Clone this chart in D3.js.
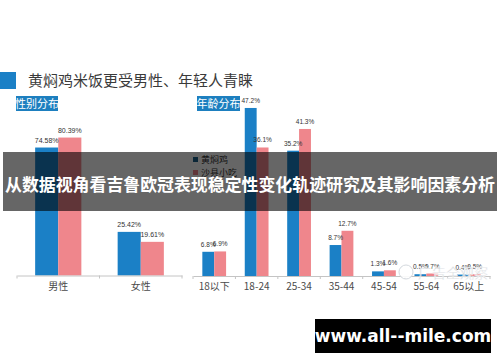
<!DOCTYPE html>
<html>
<head>
<meta charset="utf-8">
<script src="https://cdn.jsdelivr.net/npm/d3@7"></script>
<style>
  body { margin: 0; background: #fff; }
  svg { display: block; font-family: "Noto Sans CJK SC", "Noto Sans", sans-serif; }
</style>
</head>
<body>
<div id="chart"></div>
<script>
// chart data
var genderCats = ["男性", "女性"];
var genderA = [74.58, 25.42];   // 黄焖鸡
var genderB = [80.39, 19.61];   // 沙县小吃
var ageCats = ["18以下", "18-24", "25-34", "35-44", "45-54", "55-64", "65以上"];
var ageA = [6.8, 47.2, 35.2, 8.7, 1.3, 0.5, 0.4];
var ageB = [6.9, 36.1, 41.3, 12.7, 1.6, 0.7, 0.5];
var seriesNames = ["黄焖鸡", "沙县小吃"];

var blue = "#1b80c6";
var pink = "#ef868c";

var svg = d3.select("#chart").append("svg")
  .attr("width", 500)
  .attr("height", 362);

svg.append("rect").attr("width", 500).attr("height", 362).attr("fill", "#fff");

// title
svg.append("rect").attr("x", 0).attr("y", 72).attr("width", 16).attr("height", 17).attr("fill", blue);
svg.append("text")
  .attr("x", 28).attr("y", 86)
  .attr("font-size", 15)
  .attr("fill", "#3a3a3a")
  .text("黄焖鸡米饭更受男性、年轻人青睐");

// draws one grouped bar panel
function panel(cats, a, b, xr, yBase, yMax, yTop, decimals, labelSize) {
  var x0 = d3.scaleBand().domain(cats).range(xr);
  var bw = x0.bandwidth();
  var x1 = d3.scaleBand().domain([0, 1]).range([bw * 0.22, bw * 0.78]);
  var y = d3.scaleLinear().domain([0, yMax]).range([yBase, yTop]);

  var g = svg.append("g");
  var rows = cats.map(function (c, i) { return { cat: c, vals: [a[i], b[i]] }; });

  var grp = g.selectAll("g.cat").data(rows).enter().append("g")
    .attr("class", "cat")
    .attr("transform", d => `translate(${x0(d.cat)},0)`);

  grp.selectAll("rect").data(d => d.vals).enter().append("rect")
    .attr("x", (d, i) => x1(i))
    .attr("y", d => y(d))
    .attr("width", x1.bandwidth())
    .attr("height", d => yBase - y(d))
    .attr("fill", (d, i) => i == 0 ? blue : pink);

  grp.selectAll("text").data(d => d.vals).enter().append("text")
    .attr("x", (d, i) => x1(i) + x1.bandwidth() / 2)
    .attr("y", d => y(d) - 5)
    .attr("text-anchor", "middle")
    .attr("font-family", "Liberation Sans")
    .attr("font-size", labelSize)
    .attr("fill", "#333")
    .text(d => d.toFixed(decimals) + "%");

  // axis
  var axis = d3.axisBottom(x0).tickSize(0).tickPadding(7);
  var ax = g.append("g")
    .attr("transform", `translate(0,${yBase})`)
    .call(axis);
  ax.select(".domain").attr("stroke", "#c4c4c4");
  ax.selectAll("text")
    .attr("font-family", "Noto Sans CJK SC")
    .attr("font-size", 10)
    .attr("fill", "#4a4a4a");

  // separators between categories
  var edges = cats.map(c => x0(c)).concat([xr[1]]);
  g.selectAll("line.sep").data(edges).enter().append("line")
    .attr("x1", d => d).attr("x2", d => d)
    .attr("y1", yBase).attr("y2", yBase + 3)
    .attr("stroke", "#c4c4c4");
}

panel(genderCats, genderA, genderB, [17, 182], 275.5, 100, 103.9, 2, 7);
panel(ageCats, ageA, ageB, [193, 490], 276, 50, 98, 1, 6.5);

// section labels
function tag(x, y, w, txt) {
  svg.append("rect").attr("x", x).attr("y", y).attr("width", w).attr("height", 15).attr("fill", "#1d7fbf");
  svg.append("text")
    .attr("x", x + w / 2).attr("y", y + 11.5)
    .attr("text-anchor", "middle")
    .attr("font-size", 11)
    .attr("fill", "#fff")
    .text(txt);
}
tag(16, 96, 42, "性别分布");
tag(197, 96, 43, "年龄分布");

// legend
var legend = svg.append("g");
seriesNames.forEach(function (n, i) {
  legend.append("rect").attr("x", 193).attr("y", 157 + i * 13).attr("width", 5).attr("height", 5)
    .attr("fill", i == 0 ? "#1b5f8a" : pink);
  legend.append("text").attr("x", 201).attr("y", 163 + i * 13)
    .attr("font-size", 9).attr("fill", "#333").text(n);
});

// watermark
var wm = svg.append("g").attr("opacity", 0.9);
wm.append("circle").attr("cx", 406).attr("cy", 272).attr("r", 7)
  .attr("fill", "#fff").attr("stroke", "#d0d5db").attr("stroke-width", 1);
wm.append("text").attr("x", 418).attr("y", 278)
  .attr("font-size", 14).attr("fill", "#cbd0d6")
  .attr("stroke", "#fff").attr("stroke-width", 0.4)
  .text("广告全观察");

// banner overlay
svg.append("rect").attr("x", 3).attr("y", 152).attr("width", 494).attr("height", 59)
  .attr("fill", "rgba(0,0,0,0.6)");
svg.append("text")
  .attr("x", 250).attr("y", 191)
  .attr("text-anchor", "middle")
  .attr("font-size", 17.5)
  .attr("font-weight", "bold")
  .attr("fill", "#fff")
  .attr("textLength", 490)
  .attr("lengthAdjust", "spacingAndGlyphs")
  .text("从数据视角看吉鲁欧冠表现稳定性变化轨迹研究及其影响因素分析");

// site box
svg.append("rect").attr("x", 315).attr("y", 319).attr("width", 176).attr("height", 34).attr("fill", "#000");
svg.append("text")
  .attr("x", 403).attr("y", 342)
  .attr("text-anchor", "middle")
  .attr("font-family", "DejaVu Sans")
  .attr("font-size", 17)
  .attr("font-weight", "bold")
  .attr("fill", "#fff")
  .text("www.all--mile.com");
</script>
</body>
</html>
